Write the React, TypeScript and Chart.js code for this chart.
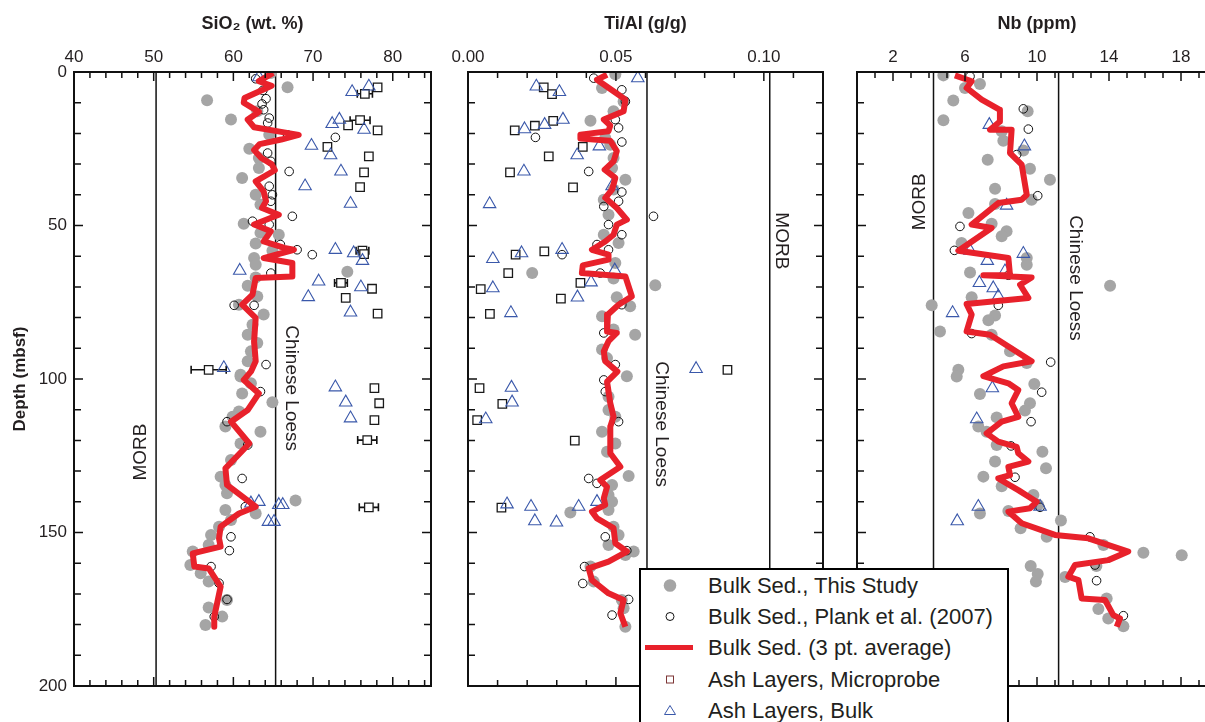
import React, { useEffect, useRef } from 'react';
import { Chart, registerables } from 'chart.js';

Chart.register(...registerables);

const FONT = '"Liberation Sans", Arial, Helvetica, sans-serif';
const TEXT = '#231f20';
const RED = '#e8212b';
const GRAY = '#a5a5a5';
const BLUE = '#3a58aa';

type Pair = [number, number];
type Err = [number, number, number];

// ---------- Tick labels ----------
const depthTicks = [0, 50, 100, 150, 200];
const sio2Ticks = [40, 50, 60, 70, 80];
const tialTicks = [0, 0.05, 0.1];
const nbTicks = [2, 6, 10, 14, 18];
const refNames = ['MORB', 'Chinese Loess'];

// ---------- SiO2 panel: [depth, value] ----------
const sio2Avg: Pair[] = [[0.3,65.0],[3,63.2],[4.5,64.8],[6,63.5],[8.5,61.4],[10,61.3],[13,63.2],[15.5,61.8],[18,62.6],[19.5,66],[20.5,68.2],[22,66],[23.5,63.3],[25.4,62.6],[28,63.5],[30,64.8],[32,65.2],[35.6,62.8],[38.9,63.8],[42.1,64.1],[44.3,63.6],[46.5,65.7],[49.7,62.6],[51.9,64.7],[55.2,63.8],[57.3,66.4],[57.9,67.6],[60.6,63.8],[62.2,67.4],[66.6,67.4],[67.1,62.8],[72.5,62.4],[75.8,61.1],[80.1,62.8],[87.7,62.6],[94.2,62.8],[97.6,62.2],[100.3,61.3],[104.7,63.2],[110.1,61.8],[113.9,59.7],[121,62.0],[129.1,59.0],[134.5,59.2],[141.6,62.8],[143.8,60.7],[148.1,58.4],[151.9,58.2],[154.6,58.4],[156.8,54.9],[161.1,55.1],[161.7,56.9],[167.6,58.4],[177.4,57.6],[180.7,57.6]];
const sio2Bulk: Pair[] = [[0.3,64.7],[5,66.8],[9.2,56.7],[12.8,63.0],[15.5,59.7],[20.4,64.5],[25,62.0],[28,63.2],[31.3,63.2],[34.5,61.1],[40,62.8],[43.2,63.4],[49.4,61.3],[52.4,63.4],[53,65.7],[55.9,62.8],[58.2,64.9],[60.6,62.6],[62.8,62.8],[65.1,74.3],[66.9,62.8],[69.6,61.8],[73.1,63.0],[75.8,60.7],[79,63.8],[82.3,62.4],[85.6,61.8],[88.3,63.0],[91,62.2],[94.2,61.8],[98.6,60.9],[99.2,60.9],[101.4,62.2],[104.7,61.1],[107.6,64.9],[110.6,60.7],[112.3,59.9],[115.5,59.0],[117.2,63.4],[121,60.9],[126.4,59.7],[131.8,58.4],[134.5,59.0],[137.2,59.2],[139.6,67.8],[142.7,59.0],[143.8,62.8],[145.9,59.7],[148.1,58.2],[150.8,57.2],[154.1,56.9],[156.2,54.9],[160.6,54.6],[163.3,55.9],[166,56.9],[172,59.2],[174.4,56.9],[177.4,58.6],[180.1,56.5]];
const sio2Plank: Pair[] = [[2.2,62.8],[6,63.7],[8.7,64.1],[10.4,63.6],[12.3,63.8],[15,64.5],[16.6,64.3],[20.5,66.8],[21.3,72.8],[26.4,64.3],[29.1,64.7],[32.4,67.0],[37.2,64.5],[40,64.9],[42.1,64.7],[47,67.4],[48.6,62.4],[49.7,64.5],[56.2,65.9],[57.9,68.0],[59.5,69.9],[65.5,64.7],[76,60.1],[76,62.6],[95.3,64.1],[104.1,63.4],[113.9,59.2],[121.5,61.8],[132.4,61.1],[141.6,61.5],[151.4,59.7],[155.9,59.5],[161.1,57.2],[166.5,58.2],[171.8,59.2],[177.4,57.6]];
const sio2Micro: Pair[] = [[5,78.1],[7.1,76.5],[15.7,75.9],[17.4,74.4],[19,78.1],[24.4,71.8],[27.5,77.0],[32.7,76.4],[37.5,75.9],[58.2,76.2],[59.3,76.4],[68.7,73.5],[70.6,77.4],[73.6,74.1],[78.7,78.1],[97,56.9],[103,77.7],[107.9,78.3],[113.4,77.7],[119.9,76.8],[141.8,77.0]];
const sio2MicroErr: Err[] = [[7.1,76.5,0.95],[15.7,75.9,1.25],[24.4,71.8,0.45],[58.2,76.2,0.8],[68.7,73.5,0.8],[97,56.9,2.2],[119.9,76.8,1.2],[141.8,77.0,1.2]];
const sio2Ash: Pair[] = [[1.7,63.2],[4.7,77.0],[6.5,74.9],[15.5,73.3],[16.9,72.4],[18.8,76.4],[24,69.8],[27.1,72.2],[32.4,73.5],[37.2,69.0],[42.9,74.7],[57.9,72.8],[59,75.1],[61.5,76.2],[64.7,60.8],[68.2,70.7],[70.1,76.0],[73.3,69.4],[78.3,74.7],[96.4,58.8],[102.7,72.8],[107.6,74.1],[112.8,74.7],[140,63.2],[140.5,62.2],[141,65.7],[141,66.2],[146.5,64.4],[146.5,65.1]];
const sio2Ref = [50.3, 65.3];

// ---------- Ti/Al panel ----------
const tialAvg: Pair[] = [[0.9,0.0470],[2.5,0.0436],[7.4,0.0509],[9.0,0.0532],[12.8,0.0526],[15.5,0.0459],[17.4,0.0481],[19.3,0.0475],[20.4,0.0380],[21.7,0.0380],[22.4,0.0481],[25.8,0.0503],[29.1,0.0492],[31.8,0.0462],[34.5,0.0498],[38.3,0.0487],[41,0.0464],[44.3,0.0503],[48.1,0.0537],[49.7,0.0503],[53,0.0492],[55.2,0.0464],[57.9,0.0419],[59.5,0.0475],[61.1,0.0475],[63,0.0388],[65.5,0.0385],[66.6,0.0532],[73.1,0.0554],[75.8,0.0509],[79,0.0473],[84.5,0.0470],[85,0.0503],[87.7,0.0475],[91,0.0459],[94.2,0.0464],[97.6,0.0505],[100.9,0.0470],[107.9,0.0481],[112.3,0.0492],[115.5,0.0481],[124.2,0.0481],[128.6,0.0515],[132.9,0.0447],[135.1,0.0470],[138.9,0.0459],[141,0.0464],[143.2,0.0419],[145.4,0.0436],[148.6,0.0492],[153.5,0.0498],[156.2,0.0537],[159.5,0.0475],[161.7,0.0408],[165.5,0.0419],[169.8,0.0475],[172,0.0526],[176.3,0.0515],[180.7,0.0532]];
const tialBulk: Pair[] = [[0.7,0.0498],[5.2,0.0453],[9.6,0.0526],[12.8,0.0492],[15.9,0.0414],[21.5,0.0464],[23.7,0.0481],[28,0.0492],[31.3,0.0487],[35.1,0.0532],[38.3,0.0492],[41.6,0.0459],[46.5,0.0475],[53,0.0459],[55.7,0.0509],[62.2,0.0498],[65.5,0.0217],[67.3,0.0492],[69.5,0.0633],[73.4,0.0503],[76.3,0.0548],[79.6,0.0453],[83.9,0.0492],[85.6,0.0565],[90.4,0.0453],[93.2,0.0470],[99.1,0.0537],[105.8,0.0475],[110.1,0.0475],[112.3,0.0498],[117.2,0.0453],[121,0.0498],[123.7,0.0470],[131.6,0.0543],[134.5,0.0487],[137.8,0.0475],[140,0.0487],[142.7,0.0475],[143.5,0.0346],[148.1,0.0492],[150.8,0.0509],[154.1,0.0475],[156.2,0.0560],[157.3,0.0532],[161.1,0.0414],[166,0.0425],[172,0.0520],[174.7,0.0526],[180.7,0.0532]];
const tialPlank: Pair[] = [[2,0.0425],[5.8,0.0520],[9.6,0.0532],[15.5,0.0498],[18.2,0.0509],[21.3,0.0228],[22.8,0.0520],[32.4,0.0408],[39.1,0.0520],[42.1,0.0509],[43.8,0.0459],[47,0.0627],[49.7,0.0475],[53,0.0520],[56.2,0.0436],[57.9,0.0475],[59.5,0.0318],[65.5,0.0447],[75.8,0.0520],[85,0.0459],[95.3,0.0498],[100.3,0.0459],[104.1,0.0464],[113.9,0.0509],[132.4,0.0408],[134,0.0436],[151.4,0.0464],[155.9,0.0537],[161.1,0.0394],[166.6,0.0388],[171.8,0.0543],[176.9,0.0487]];
const tialMicro: Pair[] = [[5,0.0256],[7.2,0.0284],[15.9,0.0288],[17.5,0.0226],[19,0.0158],[24.4,0.0388],[27.5,0.0273],[32.7,0.0142],[37.6,0.0355],[58.4,0.0258],[59.5,0.0161],[65.5,0.0136],[68.7,0.0380],[70.7,0.0043],[73.8,0.0314],[78.8,0.0074],[97,0.0877],[103,0.0039],[108.1,0.0116],[113.4,0.0031],[120.1,0.0361],[141.9,0.0113]];
const tialAsh: Pair[] = [[2,0.0574],[4.7,0.0231],[6.5,0.0309],[15.5,0.0321],[17.2,0.0259],[18.6,0.0191],[24.2,0.0444],[27.1,0.0369],[32.4,0.0189],[37.2,0.0487],[43,0.0073],[57.9,0.0318],[59,0.0181],[60.9,0.0084],[64.6,0.0496],[68.5,0.0416],[70.4,0.0084],[73.4,0.0370],[78.5,0.0145],[96.7,0.0771],[102.8,0.0147],[107.6,0.0149],[113.1,0.0060],[140,0.0436],[140.8,0.0132],[141.6,0.0213],[141.6,0.0374],[146.3,0.0226],[146.7,0.0299]];
const tialRef = [0.102, 0.0605];

// ---------- Nb panel ----------
const nbAvg: Pair[] = [[1.1,5.44],[3.0,6.37],[5.2,6.09],[9.0,6.93],[12.3,7.94],[16.1,7.94],[18.8,7.39],[18.8,8.59],[26.4,8.50],[30.2,9.15],[40,9.43],[41.6,9.15],[42.7,7.85],[49.7,6.37],[50.8,7.48],[58.2,5.63],[60.6,8.41],[66.2,8.50],[66.2,7.02],[66.9,9.70],[69.3,9.06],[73.6,9.52],[75.6,6.09],[79,6.37],[84.5,6.09],[85.6,7.39],[94.2,9.70],[95.9,8.13],[99.1,7.02],[101.4,8.41],[103.6,8.96],[107.9,8.59],[112.3,8.96],[113.9,8.04],[117.7,7.20],[120.4,7.85],[122.1,8.87],[124.2,8.96],[126.9,9.52],[128.6,8.41],[131.3,8.50],[132.4,7.85],[136.2,8.96],[138.3,9.52],[140,9.98],[142.1,9.61],[143.2,8.41],[147,9.15],[150.8,11.0],[151.9,12.85],[156.2,15.07],[159,13.96],[160.6,12.11],[164.4,11.74],[165.5,12.30],[171.5,12.48],[172,13.78],[176.9,14.24],[178,14.61],[180.7,14.43]];
const nbBulk: Pair[] = [[1.1,4.80],[3.9,6.83],[5.2,6.0],[9.3,5.35],[12.8,9.48],[15.7,4.80],[19.3,8.04],[22.4,8.13],[25.6,9.24],[28.6,7.26],[31.5,9.61],[35.1,10.72],[38,7.67],[41.6,9.70],[43,7.67],[45.9,6.19],[49.4,7.48],[51.9,8.31],[53.5,8.04],[55.7,5.81],[60.6,9.43],[62.8,9.43],[65.3,6.28],[69.6,14.06],[73.4,6.37],[76,4.15],[79.3,7.67],[80.9,7.30],[84.5,4.61],[85.6,7.48],[91,8.5],[94.8,9.43],[97,5.63],[99.2,5.54],[101.6,9.85],[104.9,6.83],[107.9,9.61],[110.3,9.33],[112.5,7.76],[115.5,6.74],[117.2,7.20],[121.5,7.76],[123.7,10.30],[126.9,7.67],[129.1,10.50],[131.8,7.02],[134.9,8.04],[137.8,9.80],[141,10.07],[143,8.41],[143.8,6.83],[146.1,11.33],[148.6,9.09],[151.4,10.54],[154.1,13.69],[156.6,15.91],[157.4,18.04],[160.9,9.65],[160.9,13.3],[163.5,10.04],[164.5,11.56],[166,9.94],[171.5,13.87],[174.9,13.41],[178,13.96],[180.5,14.80]];
const nbPlank: Pair[] = [[1.4,6.28],[12,9.24],[18.6,9.52],[26.9,8.87],[40.3,10.04],[50.3,5.72],[58.1,5.41],[66.2,8.41],[76,7.85],[85.2,6.37],[94.5,10.76],[104.3,10.26],[113.9,9.67],[121.8,8.56],[132,8.78],[141.8,10.17],[151.4,12.94],[160.6,13.22],[165.7,13.31],[177.1,14.80]];
const nbMicro: Pair[] = [];
const nbAsh: Pair[] = [[17.2,7.35],[24.2,9.30],[43.5,8.31],[58.2,6.28],[59.2,9.24],[61.5,7.24],[64.9,8.22],[68.7,6.80],[70.4,7.57],[73.1,7.85],[78.5,5.31],[103,7.52],[113.1,6.65],[141.6,6.74],[141.6,10.17],[146.3,5.57]];
const nbRef = [4.25, 11.2];

// ---------- Legend ----------
const legendLabels = [
  'Bulk Sed., This Study',
  'Bulk Sed., Plank et al. (2007)',
  'Bulk Sed. (3 pt. average)',
  'Ash Layers, Microprobe',
  'Ash Layers, Bulk',
];

const toPts = (arr: Pair[]) => arr.map(([d, v]) => ({ x: v, y: d }));

interface Panel {
  title: string;
  xMin: number;
  xMax: number;
  xTicks: number[];
  fmt: (v: number) => string;
  minorStep: number;
  yWidth: number;
  padRight: number;
  showY: boolean;
  avg: Pair[];
  bulk: Pair[];
  plank: Pair[];
  micro: Pair[];
  ash: Pair[];
  err: Err[];
  refs: number[];
  labels: { name: string; x: number; y: number; rot: number }[];
}

const panels: Panel[] = [
  {
    title: 'SiO\u2082 (wt. %)', xMin: 40, xMax: 84.8, xTicks: sio2Ticks, fmt: (v) => String(v), minorStep: 2,
    yWidth: 74, padRight: 9, showY: true,
    avg: sio2Avg, bulk: sio2Bulk, plank: sio2Plank, micro: sio2Micro, ash: sio2Ash, err: sio2MicroErr, refs: sio2Ref,
    labels: [{ name: refNames[0], x: 48.4, y: 123.8, rot: -90 }, { name: refNames[1], x: 67.2, y: 103, rot: 90 }],
  },
  {
    title: 'Ti/Al (g/g)', xMin: 0, xMax: 0.12, xTicks: tialTicks, fmt: (v) => v.toFixed(2), minorStep: 0.01,
    yWidth: 28, padRight: 17, showY: false,
    avg: tialAvg, bulk: tialBulk, plank: tialPlank, micro: tialMicro, ash: tialAsh, err: [], refs: tialRef,
    labels: [{ name: refNames[0], x: 0.106, y: 55, rot: 90 }, { name: refNames[1], x: 0.0652, y: 114.7, rot: 90 }],
  },
  {
    title: 'Nb (ppm)', xMin: 0, xMax: 20, xTicks: nbTicks, fmt: (v) => String(v), minorStep: 1,
    yWidth: 17, padRight: 23, showY: false,
    avg: nbAvg, bulk: nbBulk, plank: nbPlank, micro: nbMicro, ash: nbAsh, err: [], refs: nbRef,
    labels: [{ name: refNames[0], x: 3.47, y: 42.3, rot: -90 }, { name: refNames[1], x: 12.11, y: 67.1, rot: 90 }],
  },
];

const decorPlugin = {
  id: 'decor',
  beforeDatasetsDraw(chart: any, _a: any, opts: any) {
    const { ctx } = chart;
    const xs = chart.scales.x, ys = chart.scales.y;
    ctx.save();
    ctx.strokeStyle = '#111';
    ctx.lineWidth = 1.6;
    for (const [d, v, e] of (opts.err || []) as Err[]) {
      const y = ys.getPixelForValue(d);
      const x1 = xs.getPixelForValue(v - e);
      const x2 = xs.getPixelForValue(v + e);
      ctx.beginPath();
      ctx.moveTo(x1, y); ctx.lineTo(x2, y);
      ctx.moveTo(x1, y - 4); ctx.lineTo(x1, y + 4);
      ctx.moveTo(x2, y - 4); ctx.lineTo(x2, y + 4);
      ctx.stroke();
    }
    ctx.restore();
  },
  afterDatasetsDraw(chart: any, _a: any, opts: any) {
    const { ctx, chartArea } = chart;
    const { left, right, top, bottom } = chartArea;
    const xs = chart.scales.x, ys = chart.scales.y;
    ctx.save();
    // reference line labels
    ctx.fillStyle = TEXT;
    ctx.font = `19px ${FONT}`;
    ctx.textAlign = 'center';
    ctx.textBaseline = 'middle';
    for (const l of opts.labels || []) {
      ctx.save();
      ctx.translate(xs.getPixelForValue(l.x), ys.getPixelForValue(l.y));
      ctx.rotate((l.rot * Math.PI) / 180);
      ctx.fillText(l.name, 0, 0);
      ctx.restore();
    }
    // inward ticks
    ctx.strokeStyle = '#111';
    ctx.lineWidth = 1.5;
    ctx.beginPath();
    const major: number[] = opts.xTicks;
    const eps = 1e-9;
    for (let v = opts.xMin; v <= opts.xMax + eps; v += opts.minorStep) {
      const isMajor = major.some((m: number) => Math.abs(m - v) < opts.minorStep / 10);
      const len = isMajor ? 9 : 6;
      const px = xs.getPixelForValue(v);
      if (px <= left + 1 || px >= right - 1) continue;
      ctx.moveTo(px, top); ctx.lineTo(px, top + len);
      ctx.moveTo(px, bottom); ctx.lineTo(px, bottom - len);
    }
    for (let d = 0; d <= 200; d += 10) {
      const isMajor = d % 50 === 0;
      const len = isMajor ? 9 : 7;
      const py = ys.getPixelForValue(d);
      if (py <= top + 1 || py >= bottom - 1) continue;
      ctx.moveTo(left, py); ctx.lineTo(left + len, py);
      ctx.moveTo(right, py); ctx.lineTo(right - len, py);
    }
    ctx.stroke();
    // frame
    ctx.lineWidth = 2;
    ctx.strokeRect(left, top, right - left, bottom - top);
    ctx.restore();
  },
};

function makeConfig(p: Panel): any {
  const datasets: any[] = [
    {
      data: toPts(p.avg), showLine: true, borderColor: RED, borderWidth: 6, pointRadius: 0,
      borderJoinStyle: 'round', tension: 0, fill: false,
    },
    {
      data: toPts(p.ash), pointStyle: 'triangle', pointRadius: 7.2, borderColor: BLUE, borderWidth: 1.1,
      backgroundColor: 'rgba(0,0,0,0)',
    },
    {
      data: toPts(p.micro), pointStyle: 'rect', pointRadius: 6, borderColor: '#1a1a1a', borderWidth: 1.3,
      backgroundColor: '#ffffff',
    },
    {
      data: toPts(p.plank), pointStyle: 'circle', pointRadius: 4.3, borderColor: '#111', borderWidth: 1,
      backgroundColor: 'rgba(0,0,0,0)',
    },
    {
      data: toPts(p.bulk), pointStyle: 'circle', pointRadius: 6, borderWidth: 0, backgroundColor: GRAY,
    },
    ...p.refs.map((v) => ({
      data: [{ x: v, y: 0 }, { x: v, y: 200 }], showLine: true, borderColor: '#111', borderWidth: 1.5,
      pointRadius: 0,
    })),
  ];
  return {
    type: 'scatter',
    data: { datasets },
    plugins: [decorPlugin],
    options: {
      responsive: false,
      animation: false,
      events: [],
      layout: { padding: { left: 0, top: 0, right: p.padRight, bottom: 36 } },
      plugins: {
        legend: { display: false },
        tooltip: { enabled: false },
        decor: {
          err: p.err, labels: p.labels, xTicks: p.xTicks, xMin: p.xMin, xMax: p.xMax, minorStep: p.minorStep,
        },
      },
      scales: {
        x: {
          type: 'linear', position: 'top', min: p.xMin, max: p.xMax,
          afterFit: (s: any) => { s.height = 72; },
          afterBuildTicks: (s: any) => { s.ticks = p.xTicks.map((v) => ({ value: v })); },
          grid: { display: false, drawTicks: false },
          border: { display: false },
          ticks: {
            autoSkip: false, maxRotation: 0, padding: 4, color: TEXT,
            font: { family: FONT, size: 17 },
            callback: (v: any) => p.fmt(Number(v)),
          },
          title: {
            display: true, text: p.title, color: TEXT,
            font: { family: FONT, size: 18, weight: 'bold' },
            padding: { top: 13, bottom: 0 },
          },
        },
        y: {
          type: 'linear', reverse: true, min: 0, max: 200,
          afterFit: (s: any) => { s.width = p.yWidth; },
          afterBuildTicks: (s: any) => { s.ticks = depthTicks.map((v) => ({ value: v })); },
          grid: { display: false, drawTicks: false },
          border: { display: false },
          ticks: {
            display: p.showY, padding: 7, color: TEXT,
            font: { family: FONT, size: 17 },
            callback: (v: any) => String(v),
          },
          title: {
            display: p.showY, text: 'Depth (mbsf)', color: TEXT,
            font: { family: FONT, size: 17, weight: 'bold' },
            padding: { top: 10, bottom: 0 },
          },
        },
      },
    },
  };
}

function LegendMarker({ i }: { i: number }) {
  const cy = 15.5;
  if (i === 0) return <circle cx={29} cy={cy} r={6.3} fill={GRAY} />;
  if (i === 1) return <circle cx={29} cy={cy} r={4} fill="none" stroke="#111" strokeWidth={1} />;
  if (i === 2) return <line x1={4} y1={cy} x2={52} y2={cy} stroke={RED} strokeWidth={5} />;
  if (i === 3) return <rect x={25.5} y={cy - 3.5} width={7} height={7} fill="none" stroke="#7d3535" strokeWidth={1} />;
  return <polygon points={`29,${cy - 5} ${34.5},${cy + 4} ${23.5},${cy + 4}`} fill="none" stroke={BLUE} strokeWidth={1} />;
}

function Legend() {
  return (
    <div
      style={{
        position: 'absolute', left: 639, top: 568, width: 366, height: 200,
        border: '2px solid #000', background: '#fff', boxSizing: 'content-box',
      }}
    >
      {legendLabels.map((lab, i) => (
        <div key={lab} style={{ position: 'absolute', left: 0, top: i * 31.2, height: 31, width: 366 }}>
          <svg width={60} height={31} style={{ position: 'absolute', left: 0, top: 0 }}>
            <LegendMarker i={i} />
          </svg>
          <span
            style={{
              position: 'absolute', left: 67, top: 0, lineHeight: '31px', fontSize: 22,
              fontFamily: FONT, color: TEXT, whiteSpace: 'nowrap',
            }}
          >
            {lab}
          </span>
        </div>
      ))}
    </div>
  );
}

export default function App() {
  const r1 = useRef<HTMLCanvasElement>(null);
  const r2 = useRef<HTMLCanvasElement>(null);
  const r3 = useRef<HTMLCanvasElement>(null);

  useEffect(() => {
    const refs = [r1, r2, r3];
    const charts = refs.map((r, i) => new Chart(r.current as HTMLCanvasElement, makeConfig(panels[i])));
    return () => charts.forEach((c) => c.destroy());
  }, []);

  return (
    <div
      style={{
        position: 'fixed', left: 0, top: 0, width: 1205, height: 722, overflow: 'hidden',
        background: '#fff', fontFamily: FONT,
      }}
    >
      <canvas ref={r1} width={440} height={722} style={{ position: 'absolute', left: 0, top: 0 }} />
      <canvas ref={r2} width={400} height={722} style={{ position: 'absolute', left: 440, top: 0 }} />
      <canvas ref={r3} width={400} height={722} style={{ position: 'absolute', left: 840, top: 0 }} />
      <Legend />
    </div>
  );
}
